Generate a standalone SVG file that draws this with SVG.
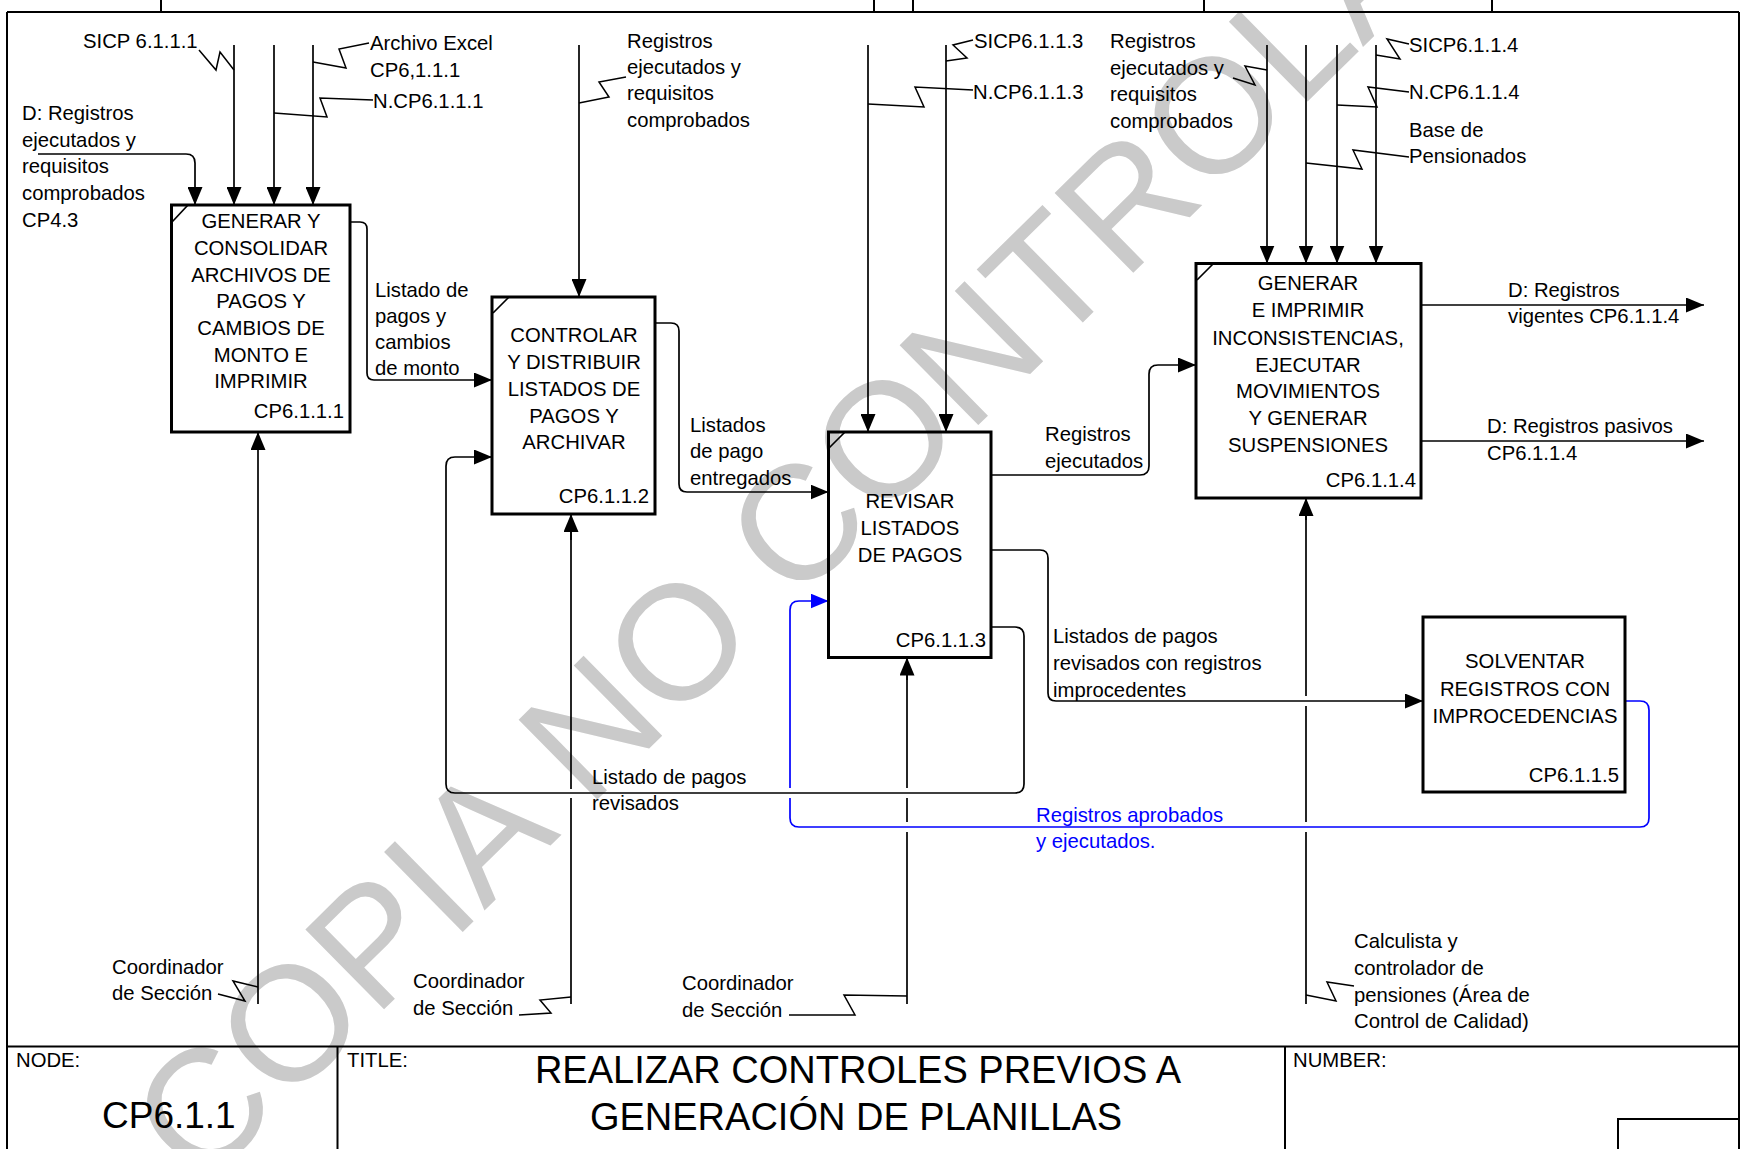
<svg xmlns="http://www.w3.org/2000/svg" width="1741" height="1149" viewBox="0 0 1741 1149">
<style>
text{font-family:"Liberation Sans",Arial,sans-serif;font-size:20.3px;fill:#000}
.c{text-anchor:middle}
.r{text-anchor:end}
.b{fill:#0000ff}
.wm{font-size:163px;fill:#cacaca}
.big{font-size:38px}
.frame{stroke:#000;stroke-width:2;fill:none}
.box{stroke:#000;stroke-width:3;fill:none}
.ln{stroke:#000;stroke-width:1.7;fill:none}
.arr{stroke:#000;stroke-width:1.7;fill:none;marker-end:url(#ah)}
.blue{stroke:#0000ff;stroke-width:1.7;fill:none}
.sq{stroke:#000;stroke-width:1.5;fill:none;stroke-linejoin:miter}
</style>
<defs>
<marker id="ah" markerUnits="userSpaceOnUse" markerWidth="18" markerHeight="15" refX="18" refY="7.5" orient="auto"><path d="M0,0 L18,7.5 L0,15 z" fill="#000"/></marker>
<marker id="ahb" markerUnits="userSpaceOnUse" markerWidth="18" markerHeight="15" refX="18" refY="7.5" orient="auto"><path d="M0,0 L18,7.5 L0,15 z" fill="#0000ff"/></marker>
</defs>
<rect width="1741" height="1149" fill="#fff"/>
<g id="watermark">
<text class="wm" transform="translate(200,1190) rotate(-44.5)">COPIA NO CONTROLADA</text>
</g>
<g id="frame">
<path class="frame" d="M7,12 H1739 M7,12 V1149 M1739,12 V1149 M7,1046.5 H1739 M337.5,1046.5 V1149 M1285,1046.5 V1149 M1618,1149 V1119 H1739"/>
<path class="frame" d="M161,0 V12 M874,0 V12 M913,0 V12 M1204,0 V12 M1492,0 V12"/>
<text x="16" y="1067">NODE:</text>
<text x="347" y="1067">TITLE:</text>
<text x="1293" y="1067">NUMBER:</text>
<text x="102" y="1128" style="font-size:37px">CP6.1.1</text>
<text class="c big" x="858" y="1083">REALIZAR CONTROLES PREVIOS A</text>
<text class="c big" x="856" y="1130">GENERACIÓN DE PLANILLAS</text>
</g>
<g id="connectors">
<path class="arr" d="M234,45 V205"/>
<path class="arr" d="M274,45 V205"/>
<path class="arr" d="M313,45 V205"/>
<path class="sq" d="M199,50 L216,70 L220,52 L234,70"/>
<path class="sq" d="M274,113 L327,117 L320,98 L373,100"/>
<path class="sq" d="M313,62 L346,68 L339,49 L369,43"/>
<path class="arr" d="M38,154 H186 Q195,154 195,163 V205"/>
<path class="arr" d="M350,222 H360 Q367,222 367,229 V373 Q367,380 374,380 H492"/>
<path class="arr" d="M258,1004 V432"/>
<path class="sq" d="M218,994 L245,1001 L233,981 L258,987"/>
<path class="arr" d="M579,45 V297"/>
<path class="sq" d="M579,103 L609,97 L599,82 L626,77"/>
<path class="arr" d="M655,323 H671 Q679,323 679,331 V484 Q679,492 687,492 H828.5"/>
<path class="ln" d="M571,1004 V798 M571,789 V532"/>
<path class="arr" d="M571,540 V514"/>
<path class="sq" d="M519,1015 L551,1013 L540,1000 L571,997"/>
<path class="arr" d="M868,45 V432"/>
<path class="arr" d="M946,45 V432"/>
<path class="sq" d="M946,61 L967,58 L953,45 L973,40"/>
<path class="sq" d="M868,104 L924,107 L915,87 L973,90"/>
<path class="arr" d="M991,475 H1140 Q1149,475 1149,466 V374 Q1149,365 1158,365 H1196"/>
<path class="arr" d="M991,550 H1040 Q1048,550 1048,558 V693 Q1048,701 1056,701 H1423"/>
<path class="arr" d="M991,627 H1015 Q1024,627 1024,636 V784 Q1024,793 1015,793 H455 Q446,793 446,784 V466 Q446,457 455,457 H492"/>
<path class="ln" d="M907,1004 V832 M907,822 V798 M907,788 V675"/>
<path class="arr" d="M907,680 V657.5"/>
<path class="sq" d="M789,1015 L855,1015 L844,995 L907,996"/>
<path class="arr" d="M1267,45 V263.5"/>
<path class="arr" d="M1306,45 V263.5"/>
<path class="arr" d="M1337,45 V263.5"/>
<path class="arr" d="M1376,45 V263.5"/>
<path class="sq" d="M1233,78 L1255,85 L1245,66 L1267,70"/>
<path class="sq" d="M1376,55 L1400,59 L1387,39 L1409,44"/>
<path class="sq" d="M1337,105 L1377,107 L1368,87 L1409,92"/>
<path class="sq" d="M1306,163 L1362,169 L1353,150 L1409,157"/>
<path class="arr" d="M1421,305 H1704"/>
<path class="arr" d="M1421,441 H1704"/>
<path class="ln" d="M1306,1004 V832 M1306,822 V706 M1306,696 V515"/>
<path class="arr" d="M1306,520 V498"/>
<path class="sq" d="M1306,995 L1336,1001 L1327,982 L1354,986"/>
<path class="blue" d="M1625,701 H1640 Q1649,701 1649,710 V818 Q1649,827 1640,827 H799 Q790,827 790,818 V798 M790,788 V610 Q790,601 799,601 H828.5" marker-end="url(#ahb)"/>
</g>
<g id="labels">
<text x="83" y="48">SICP 6.1.1.1</text>
<text x="370" y="50">Archivo Excel</text>
<text x="370" y="77">CP6,1.1.1</text>
<text x="373" y="108">N.CP6.1.1.1</text>
<text x="22" y="120">D: Registros</text>
<text x="22" y="147">ejecutados y</text>
<text x="22" y="173">requisitos</text>
<text x="22" y="200">comprobados</text>
<text x="22" y="227">CP4.3</text>
<text x="627" y="48">Registros</text>
<text x="627" y="74">ejecutados y</text>
<text x="627" y="100">requisitos</text>
<text x="627" y="127">comprobados</text>
<text x="974" y="48">SICP6.1.1.3</text>
<text x="973" y="99">N.CP6.1.1.3</text>
<text x="1110" y="48">Registros</text>
<text x="1110" y="75">ejecutados y</text>
<text x="1110" y="101">requisitos</text>
<text x="1110" y="128">comprobados</text>
<text x="1409" y="52">SICP6.1.1.4</text>
<text x="1409" y="99">N.CP6.1.1.4</text>
<text x="1409" y="137">Base de</text>
<text x="1409" y="163">Pensionados</text>
<text x="375" y="297">Listado de</text>
<text x="375" y="323">pagos y</text>
<text x="375" y="349">cambios</text>
<text x="375" y="375">de monto</text>
<text x="690" y="432">Listados</text>
<text x="690" y="458">de pago</text>
<text x="690" y="485">entregados</text>
<text x="1045" y="441">Registros</text>
<text x="1045" y="468">ejecutados</text>
<text x="1508" y="297">D: Registros</text>
<text x="1508" y="323">vigentes CP6.1.1.4</text>
<text x="1487" y="433">D: Registros pasivos</text>
<text x="1487" y="460">CP6.1.1.4</text>
<text x="1053" y="643">Listados de pagos</text>
<text x="1053" y="670">revisados con registros</text>
<text x="1053" y="697">improcedentes</text>
<text x="592" y="784">Listado de pagos</text>
<text x="592" y="810">revisados</text>
<text class="b" x="1036" y="822">Registros aprobados</text>
<text class="b" x="1036" y="848">y ejecutados.</text>
<text x="112" y="974">Coordinador</text>
<text x="112" y="1000">de Sección</text>
<text x="413" y="988">Coordinador</text>
<text x="413" y="1015">de Sección</text>
<text x="682" y="990">Coordinador</text>
<text x="682" y="1017">de Sección</text>
<text x="1354" y="948">Calculista y</text>
<text x="1354" y="975">controlador de</text>
<text x="1354" y="1002">pensiones (Área de</text>
<text x="1354" y="1028">Control de Calidad)</text>
</g>
<g id="node1">
<rect class="box" x="171.5" y="205" width="178.5" height="227"/>
<path class="ln" d="M172,222 L188,205"/>
<text class="c" x="261" y="228">GENERAR Y</text>
<text class="c" x="261" y="255">CONSOLIDAR</text>
<text class="c" x="261" y="282">ARCHIVOS DE</text>
<text class="c" x="261" y="308">PAGOS Y</text>
<text class="c" x="261" y="335">CAMBIOS DE</text>
<text class="c" x="261" y="362">MONTO E</text>
<text class="c" x="261" y="388">IMPRIMIR</text>
<text class="r" x="344" y="418">CP6.1.1.1</text>
</g>
<g id="node2">
<rect class="box" x="492" y="297" width="163" height="217"/>
<path class="ln" d="M493,313 L509,297"/>
<text class="c" x="574" y="342">CONTROLAR</text>
<text class="c" x="574" y="369">Y DISTRIBUIR</text>
<text class="c" x="574" y="396">LISTADOS DE</text>
<text class="c" x="574" y="423">PAGOS Y</text>
<text class="c" x="574" y="449">ARCHIVAR</text>
<text class="r" x="649" y="503">CP6.1.1.2</text>
</g>
<g id="node3">
<rect class="box" x="828.5" y="432" width="162.5" height="225.5"/>
<path class="ln" d="M829,448 L845,432"/>
<text class="c" x="910" y="508">REVISAR</text>
<text class="c" x="910" y="535">LISTADOS</text>
<text class="c" x="910" y="562">DE PAGOS</text>
<text class="r" x="986" y="647">CP6.1.1.3</text>
</g>
<g id="node4">
<rect class="box" x="1196" y="263.5" width="225" height="234.5"/>
<path class="ln" d="M1197,280 L1213,264"/>
<text class="c" x="1308" y="290">GENERAR</text>
<text class="c" x="1308" y="317">E IMPRIMIR</text>
<text class="c" x="1308" y="345">INCONSISTENCIAS,</text>
<text class="c" x="1308" y="372">EJECUTAR</text>
<text class="c" x="1308" y="398">MOVIMIENTOS</text>
<text class="c" x="1308" y="425">Y GENERAR</text>
<text class="c" x="1308" y="452">SUSPENSIONES</text>
<text class="r" x="1416" y="487">CP6.1.1.4</text>
</g>
<g id="node5">
<rect class="box" x="1423" y="617" width="202" height="175"/>
<text class="c" x="1525" y="668">SOLVENTAR</text>
<text class="c" x="1525" y="696">REGISTROS CON</text>
<text class="c" x="1525" y="723">IMPROCEDENCIAS</text>
<text class="r" x="1619" y="782">CP6.1.1.5</text>
</g>
</svg>
